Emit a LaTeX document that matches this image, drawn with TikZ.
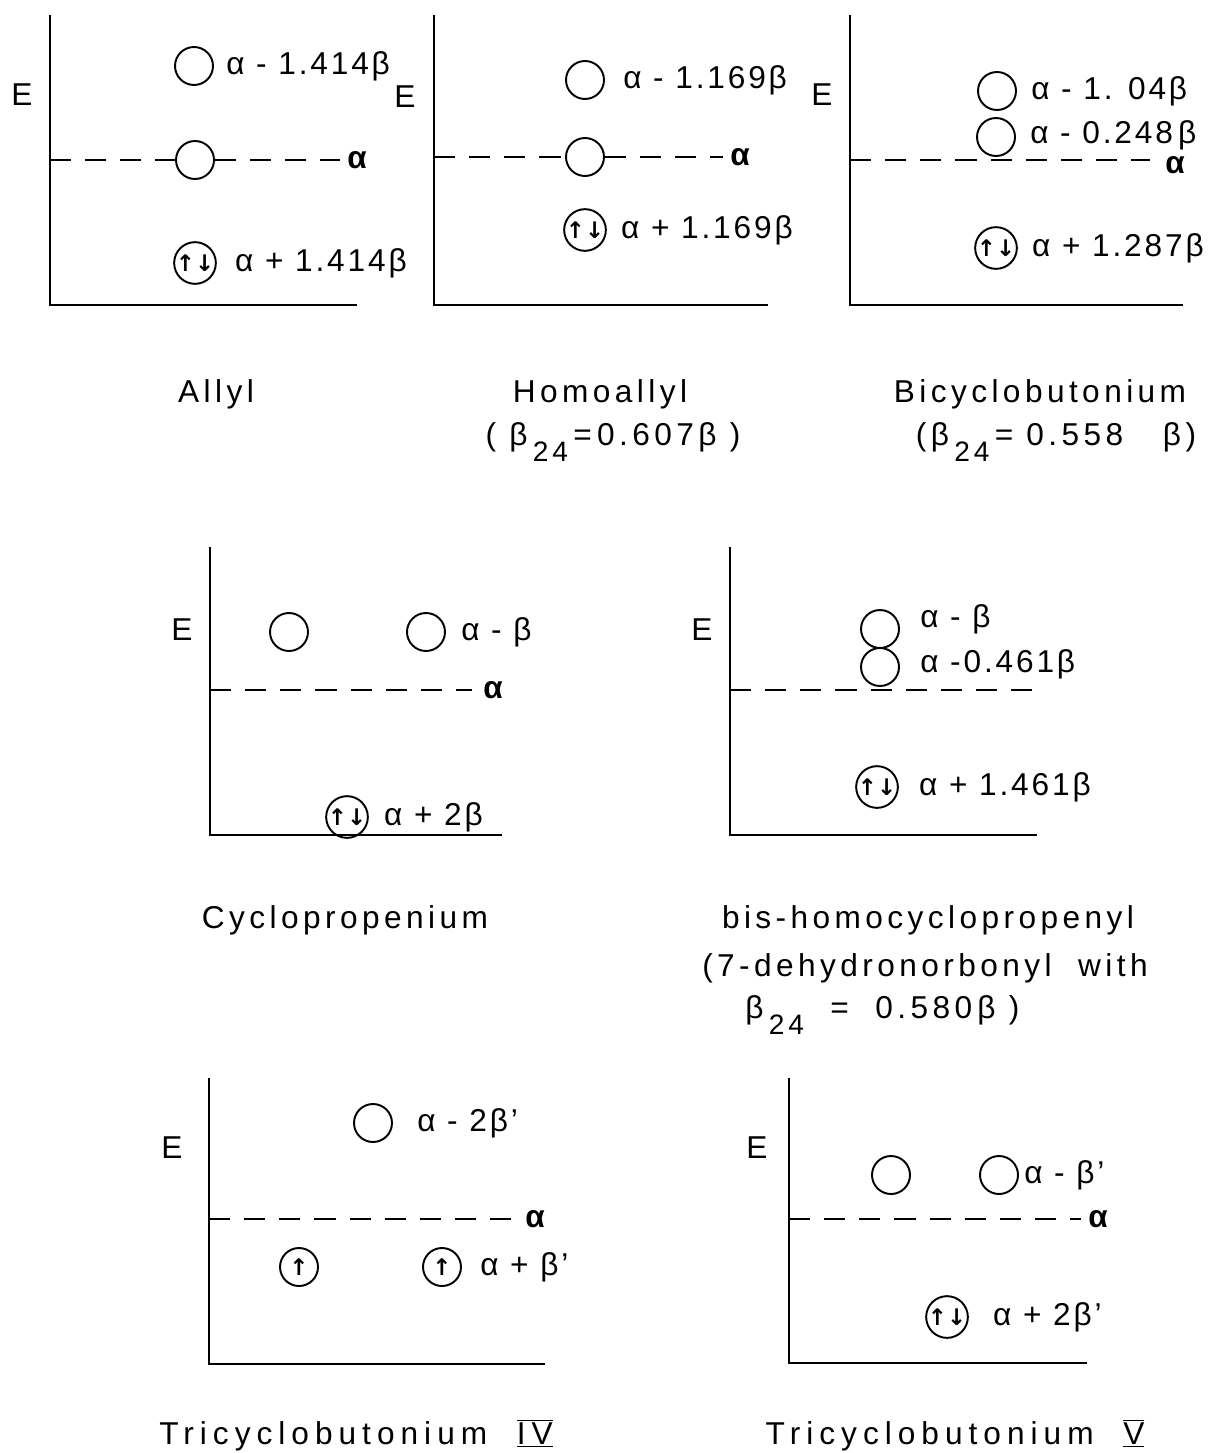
\documentclass[tikz,border=0pt]{standalone}
\usepackage{fontspec}
\setmainfont{Liberation Sans}[LetterSpace=9]
\newfontfamily\namefont{Liberation Sans}[LetterSpace=14]
\newfontfamily\widenamefont{Liberation Sans}[LetterSpace=19]
\newfontfamily\spinfont{DejaVu Sans}
\usetikzlibrary{positioning}

\newcommand{\subtf}[1]{\,\raisebox{-9pt}{\fontsize{16}{16}\selectfont #1}}
\newcommand{\romnum}[1]{$\overline{\underline{\mbox{#1}}}$}

\begin{document}
\begin{tikzpicture}[
    x=0.02cm, y=-0.02cm,
    font=\fontsize{18}{22}\selectfont,
    orbital/.style={circle, draw, line width=1.1pt, minimum size=0.76cm, inner sep=0pt,
                    font=\fontsize{13}{13}\selectfont\spinfont\bfseries},
    axis/.style={line width=1.2pt},
    level/.style={line width=1.1pt, dash pattern=on 12pt off 8pt},
    energy/.style={anchor=west, inner sep=0pt},
    alphalab/.style={anchor=west, inner sep=0pt, font=\fontsize{18}{22}\selectfont\bfseries},
    ename/.style={inner sep=0pt},
    title/.style={inner sep=0pt, align=center, font=\fontsize{18}{22}\selectfont\namefont},
    bigtitle/.style={inner sep=0pt, font=\fontsize{18}{22}\selectfont\widenamefont}
]
    \useasboundingbox (0,0) rectangle (1222,1453);

    % Allyl
    \coordinate (a1t) at (50,15);
    \coordinate (a1o) at (50,305);
    \coordinate (a1x) at (357,305);
    \coordinate (a1l) at (50,160);
    \draw[axis] (a1t) -- (a1o) -- (a1x);
    \node[ename] (a1E) at (22,95) {E};
    \node[orbital] (a1u) at (194,66) {};
    \node[energy, right=0.24cm of a1u] (a1ut) {α - 1.414β};
    \node[orbital] (a1m) at (195,160) {};
    \node[alphalab] (a1a) at (347,160) {α};
    \node[orbital] (a1d) at (195,263) {↑↓};
    \node[energy, right=0.36cm of a1d] (a1dt) {α + 1.414β};
    \draw[level] (a1l) -- (a1m.west) (a1m.east) -- ([xshift=-4pt]a1a.west);

    % Homoallyl
    \coordinate (a2t) at (434,15);
    \coordinate (a2o) at (434,305);
    \coordinate (a2x) at (768,305);
    \coordinate (a2l) at (434,157);
    \draw[axis] (a2t) -- (a2o) -- (a2x);
    \node[ename] (a2E) at (405,97) {E};
    \node[orbital] (a2u) at (585,80) {};
    \node[energy, right=0.36cm of a2u] (a2ut) {α - 1.169β};
    \node[orbital] (a2m) at (585,157) {};
    \node[alphalab] (a2a) at (730,157) {α};
    \node[orbital] (a2d) at (585,230) {↑↓};
    \node[energy, right=0.28cm of a2d] (a2dt) {α + 1.169β};
    \draw[level] (a2l) -- (a2m.west) (a2m.east) -- ([xshift=-4pt]a2a.west);

    % Bicyclobutonium
    \coordinate (a3t) at (850,15);
    \coordinate (a3o) at (850,305);
    \coordinate (a3x) at (1183,305);
    \coordinate (a3l) at (850,160);
    \coordinate (a3r) at (1150,160);
    \draw[axis] (a3t) -- (a3o) -- (a3x);
    \node[ename] (a3E) at (822,95) {E};
    \node[orbital] (a3u) at (997,91) {};
    \node[energy, right=0.28cm of a3u] (a3ut) {α - 1. 04β};
    \node[orbital] (a3m) at (996,137) {};
    \node[energy, right=0.28cm of a3m, yshift=0.04cm] (a3mt) {α - 0.248\,β};
    \node[alphalab] (a3a) at (1165,165) {α};
    \node[orbital] (a3d) at (996,248) {↑↓};
    \node[energy, right=0.28cm of a3d] (a3dt) {α + 1.287β};
    \draw[level] (a3l) -- (a3r);

    % names, first row
    \node[title] (n1) at (216,394) {Allyl};
    \node[title] (n2) at (600,394) {Homoallyl};
    \node[title] (n2b) at (613,442) {( β\subtf{24}\,=\,0.607β )};
    \node[title] (n3) at (1040,394) {Bicyclobutonium};
    \node[title] (n3b) at (1056,442) {(β\subtf{24}\,=\ 0.558 \ \ β)};

    % Cyclopropenium
    \coordinate (b1t) at (210,547);
    \coordinate (b1o) at (210,835);
    \coordinate (b1x) at (502,835);
    \coordinate (b1l) at (210,690);
    \draw[axis] (b1t) -- (b1o) -- (b1x);
    \node[ename] (b1E) at (182,630) {E};
    \node[orbital] (b1u1) at (289,632) {};
    \node[orbital] (b1u2) at (426,632) {};
    \node[energy, right=0.3cm of b1u2] (b1ut) {α - β};
    \node[alphalab] (b1a) at (483,690) {α};
    \node[orbital] (b1d) at (347,817) {↑↓};
    \node[energy, right=0.3cm of b1d] (b1dt) {α + 2β};
    \draw[level] (b1l) -- ([xshift=-6pt]b1a.west);

    % bis-homocyclopropenyl
    \coordinate (b2t) at (730,547);
    \coordinate (b2o) at (730,835);
    \coordinate (b2x) at (1037,835);
    \coordinate (b2l) at (730,690);
    \coordinate (b2r) at (1040,690);
    \draw[axis] (b2t) -- (b2o) -- (b2x);
    \node[ename] (b2E) at (702,630) {E};
    \node[orbital] (b2u) at (880,629) {};
    \node[energy, right=0.4cm of b2u, yshift=0.2cm] (b2ut) {α - β};
    \node[orbital] (b2m) at (880,667) {};
    \node[energy, right=0.4cm of b2m, yshift=0.06cm] (b2mt) {α -0.461β};
    \node[orbital] (b2d) at (877,787) {↑↓};
    \node[energy, right=0.4cm of b2d] (b2dt) {α + 1.461β};
    \draw[level] (b2l) -- (b2r);

    % names, second row
    \node[title] (n4) at (345,920) {Cyclopropenium};
    \node[title] (n5) at (928,920) {bis-homocyclopropenyl};
    \node[title] (n5b) at (925,968) {(7-dehydronorbonyl \ with};
    \node[title, anchor=west] (n5c) at (745,1015) {β\subtf{24} \ = \ 0.580\,β )};

    % Tricyclobutonium IV
    \coordinate (c1t) at (209,1078);
    \coordinate (c1o) at (209,1364);
    \coordinate (c1x) at (545,1364);
    \coordinate (c1l) at (209,1219);
    \draw[axis] (c1t) -- (c1o) -- (c1x);
    \node[ename] (c1E) at (172,1148) {E};
    \node[orbital] (c1u) at (373,1123) {};
    \node[energy, right=0.48cm of c1u] (c1ut) {α - 2β'};
    \node[alphalab] (c1a) at (525,1219) {α};
    \node[orbital] (c1d1) at (299,1267) {↑};
    \node[orbital] (c1d2) at (442,1267) {↑};
    \node[energy, right=0.36cm of c1d2] (c1dt) {α + β'};
    \draw[level] (c1l) -- ([xshift=-6pt]c1a.west);

    % Tricyclobutonium V
    \coordinate (c2t) at (789,1078);
    \coordinate (c2o) at (789,1363);
    \coordinate (c2x) at (1087,1363);
    \coordinate (c2l) at (789,1219);
    \draw[axis] (c2t) -- (c2o) -- (c2x);
    \node[ename] (c2E) at (757,1148) {E};
    \node[orbital] (c2u1) at (891,1175) {};
    \node[orbital] (c2u2) at (999,1175) {};
    \node[energy, right=0.1cm of c2u2] (c2ut) {α - β'};
    \node[alphalab] (c2a) at (1088,1219) {α};
    \node[orbital] (c2d) at (947,1317) {↑↓};
    \node[energy, right=0.48cm of c2d] (c2dt) {α + 2β'};
    \draw[level] (c2l) -- ([xshift=-4pt]c2a.west);

    % names, third row
    \node[bigtitle] (n6) at (356,1435) {Tricyclobutonium \ \romnum{IV}};
    \node[bigtitle] (n7) at (955,1435) {Tricyclobutonium \ \romnum{V}};
\end{tikzpicture}
\end{document}
